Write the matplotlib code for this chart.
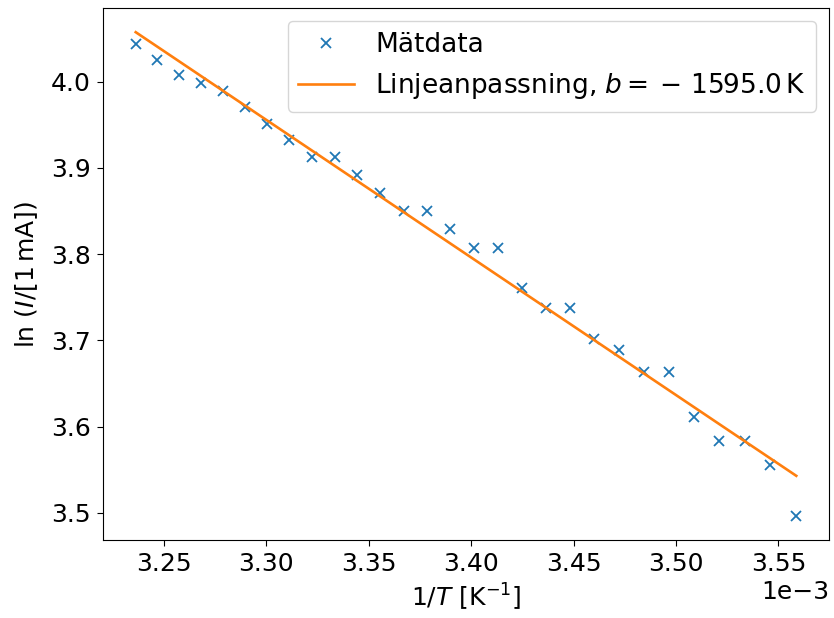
import numpy as np
import matplotlib
matplotlib.use("Agg")
import matplotlib.pyplot as plt

# Temperatures (°C) and measured currents (mA)
temps_C = [36, 35, 34, 33, 32, 31, 30, 29, 28, 27, 26, 25, 24, 23, 22,
           21, 20, 19, 18, 17, 16, 15, 14, 13, 12, 11, 10, 9, 8]
current_mA = [57, 56, 55, 54.5, 54, 53, 52, 51, 50, 50, 49, 48, 47, 47, 46,
              45, 45, 43, 42, 42, 40.5, 40, 39, 39, 37, 36, 36, 35, 33]
b_slope = -1595.0  # K

T = np.array(temps_C, dtype=float) + 273.0
x = 1.0 / T
y = np.log(np.array(current_mA, dtype=float))
a_int = y.mean() - b_slope * x.mean()

plt.rcParams['font.size'] = 18
plt.rcParams['xtick.major.size'] = 4.2
plt.rcParams['ytick.major.size'] = 4.2
plt.rcParams['xtick.major.pad'] = 4.4
plt.rcParams['ytick.major.pad'] = 4.4
fig = plt.figure(figsize=(8.34, 6.18), dpi=100)
ax = fig.add_axes([102.7/834, 1 - 540/618, (829.3-102.7)/834, (540-8)/618])
ax.plot(x, y, 'x', color='C0', markersize=7.2, markeredgewidth=1.3, label='Mätdata')
ax.plot(x, b_slope * x + a_int, '-', color='C1', linewidth=1.9,
        label=r'Linjeanpassning, $b = {} - \,%.1f\,\mathrm{K}$' % abs(b_slope))
ax.ticklabel_format(axis='x', style='sci', scilimits=(-3, -3))
ax.set_xlabel(r'$1/T\ [\mathrm{K}^{-1}]$')
ax.set_ylabel(r'$\ln\,(I/[1\,\mathrm{mA}])$', labelpad=8)
ax.legend(loc='upper right', fontsize=19, handlelength=2.1)
fig.savefig('out.png', dpi=100)
